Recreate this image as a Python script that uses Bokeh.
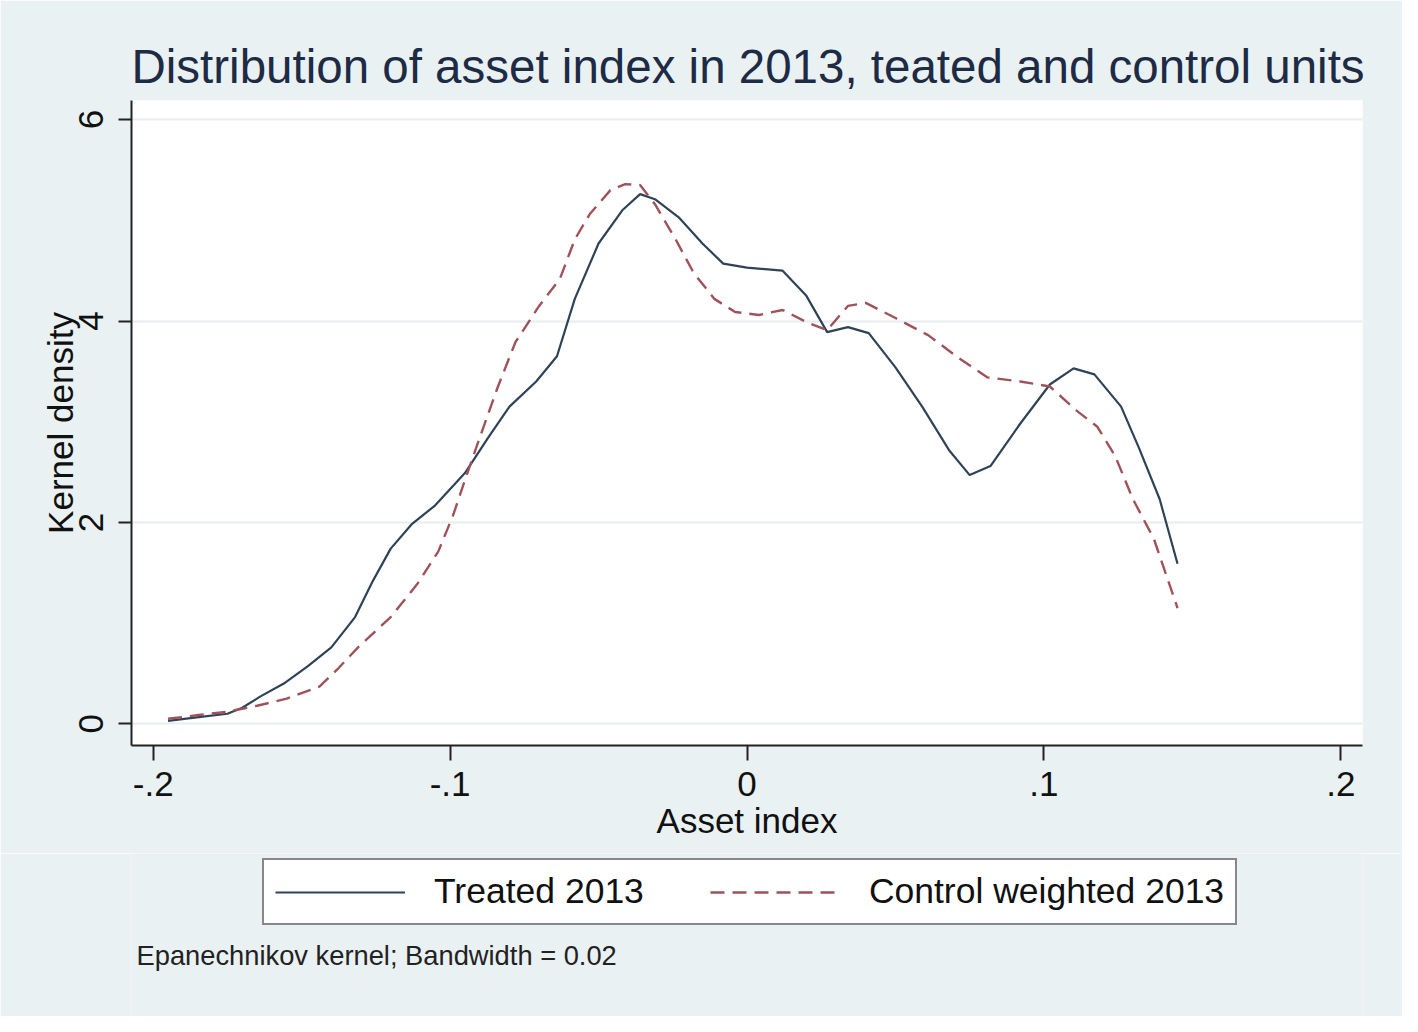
from bokeh.plotting import figure
from bokeh.layouts import column
from bokeh.models import Range1d, FixedTicker, Legend, LegendItem, Title, Label
from bokeh.embed import file_html
from bokeh.resources import INLINE

# ---- data ----
treated_x = [-0.195, -0.184, -0.175, -0.170, -0.164, -0.156, -0.148, -0.140, -0.132, -0.126,
             -0.120, -0.113, -0.105, -0.095, -0.087, -0.080, -0.071, -0.064, -0.058, -0.050,
             -0.042, -0.036, -0.031, -0.023, -0.015, -0.008, 0.000, 0.012, 0.020, 0.027,
             0.034, 0.041, 0.050, 0.059, 0.068, 0.075, 0.082, 0.092, 0.102, 0.110,
             0.117, 0.126, 0.132, 0.139, 0.145]
treated_y = [0.03, 0.07, 0.10, 0.16, 0.27, 0.40, 0.57, 0.76, 1.06, 1.42,
             1.74, 1.98, 2.17, 2.49, 2.85, 3.15, 3.40, 3.65, 4.22, 4.77,
             5.10, 5.26, 5.21, 5.03, 4.77, 4.57, 4.53, 4.50, 4.25, 3.89,
             3.94, 3.88, 3.54, 3.15, 2.72, 2.47, 2.56, 2.98, 3.37, 3.53,
             3.47, 3.15, 2.74, 2.23, 1.59]

control_x = [-0.195, -0.184, -0.175, -0.165, -0.155, -0.144, -0.138, -0.131, -0.120, -0.111,
             -0.104, -0.099, -0.095, -0.091, -0.084, -0.078, -0.070, -0.063, -0.058, -0.053,
             -0.046, -0.041, -0.036, -0.031, -0.024, -0.018, -0.011, -0.004, 0.004, 0.012,
             0.020, 0.027, 0.034, 0.040, 0.050, 0.061, 0.071, 0.081, 0.092, 0.102,
             0.111, 0.118, 0.124, 0.130, 0.137, 0.145]
control_y = [0.05, 0.09, 0.12, 0.18, 0.25, 0.37, 0.54, 0.76, 1.06, 1.39,
             1.71, 2.07, 2.42, 2.76, 3.34, 3.79, 4.15, 4.42, 4.81, 5.06,
             5.30, 5.36, 5.35, 5.16, 4.81, 4.48, 4.22, 4.09, 4.06, 4.11,
             3.99, 3.91, 4.15, 4.18, 4.03, 3.86, 3.64, 3.44, 3.40, 3.35,
             3.11, 2.95, 2.66, 2.23, 1.84, 1.15]

x_ticks = [-0.2, -0.1, 0.0, 0.1, 0.2]
x_tick_labels = ["-.2", "-.1", "0", ".1", ".2"]
y_ticks = [0, 2, 4, 6]
y_tick_labels = ["0", "2", "4", "6"]

series_names = ["Treated 2013", "Control weighted 2013"]
title_text = "Distribution of asset index in 2013, teated and control units"
note_text = "Epanechnikov kernel; Bandwidth = 0.02"

FONT = "Liberation Sans"
BG = "#EAF1F3"
SOLID_COLOR = "#2f4358"
DASH_COLOR = "#a0525a"
LEFT, FRAME_W, RIGHT = 131, 1231, 40
TOP_H = 100 + 645 + 108
BOT_H = 1016 - TOP_H

# ---------------- main plot ----------------
p = figure(frame_width=FRAME_W, frame_height=645, output_backend="svg", toolbar_location=None,
           x_range=Range1d(-0.2073, 0.2073), y_range=Range1d(-0.215, 6.19),
           min_border_left=LEFT, min_border_right=RIGHT, min_border_top=100, min_border_bottom=108)

p.background_fill_color = "white"
p.border_fill_color = BG
p.outline_line_color = None

p.title = Title(text=title_text, text_font=FONT, text_font_size="47.5px",
                text_font_style="normal", text_color="#1d2b45", align="left", standoff=15)

p.line(treated_x, treated_y, line_color=SOLID_COLOR, line_width=2.2)
p.line(control_x, control_y, line_color=DASH_COLOR, line_width=2.4, line_dash="14 8")

for ax in (p.xaxis[0], p.yaxis[0]):
    ax.axis_line_color = "#222222"
    ax.axis_line_width = 2
    ax.major_tick_line_color = "#222222"
    ax.major_tick_line_width = 2
    ax.major_tick_in = 0
    ax.minor_tick_line_color = None
    ax.major_label_text_font = FONT
    ax.major_label_text_font_size = "35px"
    ax.major_label_text_color = "#111111"
    ax.axis_label_text_font = FONT
    ax.axis_label_text_font_size = "35px"
    ax.axis_label_text_font_style = "normal"
    ax.axis_label_text_color = "#111111"

p.xaxis.ticker = FixedTicker(ticks=x_ticks)
p.xaxis.major_label_overrides = dict(zip(x_ticks, x_tick_labels))
p.xaxis.major_tick_out = 15
p.xaxis.major_label_standoff = 11
p.xaxis.axis_label = "Asset index"
p.xaxis.axis_label_standoff = 2

p.yaxis.ticker = FixedTicker(ticks=y_ticks)
p.yaxis.major_label_overrides = dict(zip(y_ticks, y_tick_labels))
p.yaxis.major_tick_out = 13
p.yaxis.major_label_standoff = 15
p.yaxis.major_label_orientation = "vertical"
p.yaxis.axis_label = "Kernel density"
p.yaxis.axis_label_standoff = -3

p.xgrid.visible = False
p.ygrid.grid_line_color = "#E6EDF0"
p.ygrid.grid_line_width = 2

# ---------------- legend + note strip (pixel-like coordinates) ----------------
q = figure(frame_width=FRAME_W, frame_height=BOT_H, output_backend="svg", toolbar_location=None,
           x_range=Range1d(LEFT, LEFT + FRAME_W), y_range=Range1d(BOT_H, 0),
           min_border_left=LEFT, min_border_right=RIGHT, min_border_top=0, min_border_bottom=0,
           x_axis_location=None, y_axis_location=None)
q.background_fill_color = BG
q.border_fill_color = BG
q.outline_line_color = None
q.xgrid.visible = False
q.ygrid.visible = False

# the series again, only as legend keys (they fall outside this strip's range, so are clipped)
k1 = q.line(treated_x, treated_y, line_color=SOLID_COLOR, line_width=2.2)
k2 = q.line(control_x, control_y, line_color=DASH_COLOR, line_width=2.4, line_dash="14 8")

legend = Legend(items=[LegendItem(label=series_names[0], renderers=[k1]),
                       LegendItem(label=series_names[1], renderers=[k2])],
                orientation="horizontal", location=(262 - LEFT, BOT_H - 72),
                label_text_font=FONT, label_text_font_size="35.5px", label_text_color="#111111",
                glyph_width=130, glyph_height=36, label_standoff=29, spacing=66,
                padding=11, margin=0,
                border_line_color="#111111", border_line_width=2,
                background_fill_color="white", background_fill_alpha=1.0)
q.add_layout(legend, "center")

note = Label(x=136, y=102, text=note_text, text_font=FONT, text_font_size="27.3px",
             text_color="#222222", text_baseline="middle", text_align="left")
q.add_layout(note)

open("out.html", "w").write(file_html(column(p, q, spacing=0), INLINE))
